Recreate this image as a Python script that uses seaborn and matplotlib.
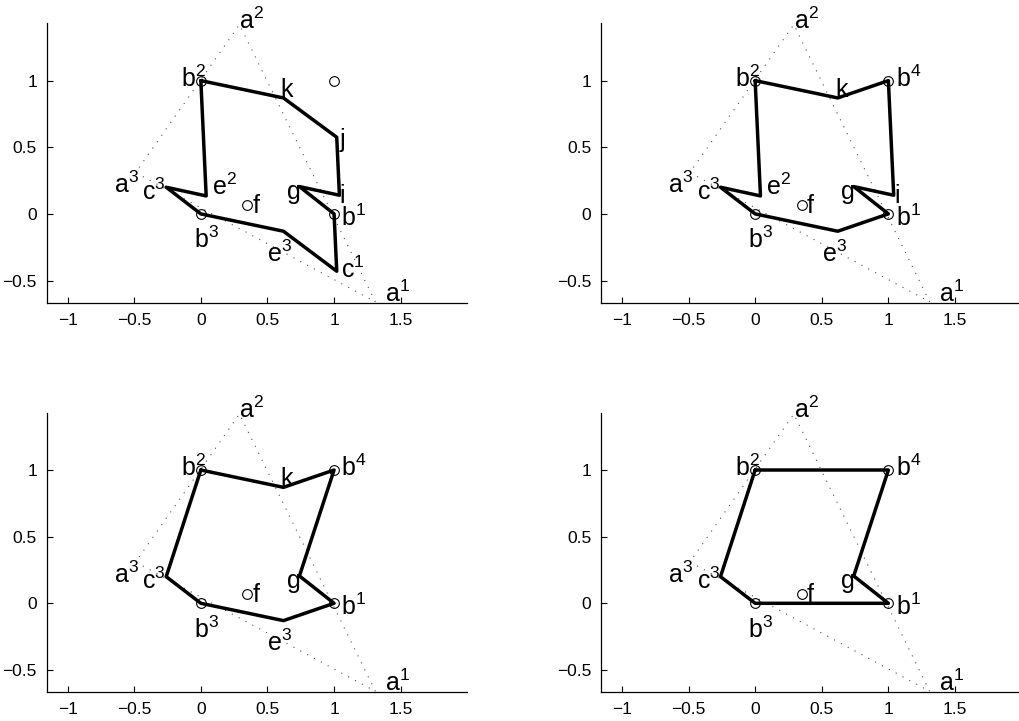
import matplotlib
matplotlib.use("Agg")
import matplotlib.pyplot as plt
import seaborn as sns
import pandas as pd

# named points of the construction
point_names = ["a1", "a2", "a3", "b1", "b2", "b3", "b4", "c1", "c3",
               "e2", "e3", "f", "g", "i", "j", "k"]
point_x = [1.31, 0.29, -0.49, 1.0, 0.0, 0.0, 1.0, 1.02, -0.26,
           0.04, 0.62, 0.35, 0.74, 1.04, 1.02, 0.62]
point_y = [-0.66, 1.42, 0.31, 0.0, 1.0, 0.0, 1.0, -0.43, 0.2,
           0.135, -0.13, 0.07, 0.205, 0.14, 0.575, 0.87]

triangle = ["a1", "a2", "a3", "a1"]

paths = [
    ["b2", "k", "j", "i", "g", "b1", "c1", "e3", "b3", "c3", "e2", "b2"],
    ["b2", "k", "b4", "i", "g", "b1", "e3", "b3", "c3", "e2", "b2"],
    ["b2", "k", "b4", "g", "b1", "e3", "b3", "c3", "b2"],
    ["b2", "b4", "g", "b1", "b3", "c3", "b2"],
]
circles = ["b1", "b2", "b3", "b4", "f"]
labels = [
    ["a1", "a2", "a3", "b1", "b2", "b3", "c1", "c3", "e2", "e3", "f", "g", "i", "j", "k"],
    ["a1", "a2", "a3", "b1", "b2", "b3", "b4", "c3", "e2", "e3", "f", "g", "i", "k"],
    ["a1", "a2", "a3", "b1", "b2", "b3", "b4", "c3", "e3", "f", "g", "k"],
    ["a1", "a2", "a3", "b1", "b2", "b3", "b4", "c3", "f", "g"],
]
xticks = [-1, -0.5, 0, 0.5, 1, 1.5]
yticks = [-0.5, 0, 0.5, 1]

# where each label sits relative to its point (left edge, baseline)
label_offset = {
    "a1": (0.07, 0.0), "a2": (0.0, -0.03), "a3": (-0.165, -0.155),
    "b1": (0.055, -0.09), "b2": (-0.15, -0.045), "b3": (-0.05, -0.258),
    "b4": (0.055, -0.045), "c1": (0.035, -0.052), "c3": (-0.18, -0.092),
    "e2": (0.04, 0.008), "e3": (-0.12, -0.23), "f": (0.038, -0.064),
    "g": (-0.092, -0.09), "i": (0.003, -0.055), "j": (0.018, -0.075),
    "k": (-0.02, 0.01),
}

pts = pd.DataFrame({"x": point_x, "y": point_y}, index=point_names)

sns.set_style("ticks")
plt.rcParams["font.family"] = ["Liberation Sans", "DejaVu Sans"]
plt.rcParams["mathtext.fontset"] = "custom"
plt.rcParams["mathtext.rm"] = "Liberation Sans"

fig = plt.figure(figsize=(10.19, 7.21), dpi=100)
W, H = 1019.0, 721.0
boxes = [(46.7, 23.3), (601.0, 23.3), (46.7, 412.7), (601.0, 412.7)]
bw, bh = 420.6, 279.5


def tex(name):
    if name[-1].isdigit():
        return r"$\mathregular{%s^{%s}}$" % (name[:-1], name[-1])
    return name


for n, (px, py) in enumerate(boxes):
    ax = fig.add_axes([px / W, 1 - (py + bh) / H, bw / W, bh / H])
    tri = pts.loc[triangle]
    sns.lineplot(x=tri["x"].values, y=tri["y"].values, sort=False, estimator=None,
                 color="0.3", lw=0.8, ls=(0, (1, 6)), ax=ax)
    p = pts.loc[paths[n]]
    sns.lineplot(x=p["x"].values, y=p["y"].values, sort=False, estimator=None,
                 color="black", lw=2.5, ax=ax)
    cset = circles if n > 0 else ["b1", "b2", "b3", "b4", "f"]
    c = pts.loc[cset]
    sns.lineplot(x=c["x"].values, y=c["y"].values, sort=False, estimator=None,
                 ls="", marker="o", ms=7, mfc="none", mec="black", mew=0.8, ax=ax)
    for name in labels[n]:
        dx, dy = label_offset[name]
        ax.text(pts.loc[name, "x"] + dx, pts.loc[name, "y"] + dy, tex(name),
                fontsize=18, ha="left", va="baseline", color="black")

    ax.set_xlim(-1.157, 2.0)
    ax.set_ylim(-0.667, 1.43)
    ax.set_xticks(xticks)
    ax.set_xticklabels([("%g" % t).replace("-", "\u2212") for t in xticks])
    ax.set_yticks(yticks)
    ax.set_yticklabels([("%g" % t).replace("-", "\u2212") for t in yticks])
    ax.tick_params(direction="in", length=4, width=0.8, labelsize=12.5, pad=7,
                   colors="black")
    sns.despine(ax=ax)
    for s in ["left", "bottom"]:
        ax.spines[s].set_linewidth(0.9)
        ax.spines[s].set_color("black")
    ax.set_xlabel("")
    ax.set_ylabel("")

fig.savefig("out.png", dpi=100)
